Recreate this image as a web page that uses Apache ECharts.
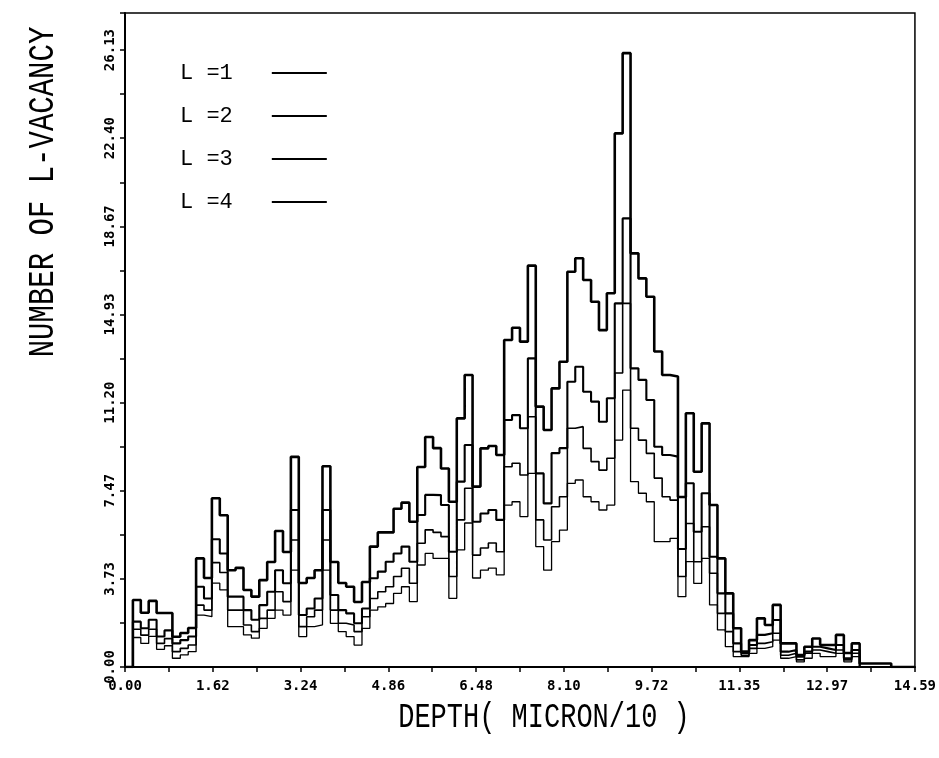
<!DOCTYPE html>
<html>
<head>
<meta charset="utf-8">
<script src="https://cdn.jsdelivr.net/npm/echarts@6/dist/echarts.min.js"></script>
<style>
html, body { margin: 0; padding: 0; background: #ffffff; }
#chart { width: 939px; height: 758px; }
</style>
</head>
<body>
<div id="chart"></div>
<script>
// Depth distribution of L-vacancies: one step curve per L shell, 100 depth bins.
const depthMax = 14.59;
const binCount = 100;
const binWidth = depthMax / binCount;

const xTickLabels = ['0.00', '1.62', '3.24', '4.86', '6.48', '8.10', '9.72', '11.35', '12.97', '14.59'];
const yTickLabels = ['0.00', '3.73', '7.47', '11.20', '14.93', '18.67', '22.40', '26.13'];
const seriesNames = ['L =1', 'L =2', 'L =3', 'L =4'];

const vacL1 = [
  0, 2.84, 2.30, 2.80, 2.29, 2.29, 1.28, 1.44, 1.65, 4.60,
  3.77, 7.15, 6.43, 4.10, 4.20, 3.26, 2.98, 3.68, 4.45, 5.76,
  4.87, 8.90, 3.56, 3.77, 4.10, 8.50, 4.45, 3.56, 3.40, 2.75,
  3.60, 5.10, 5.70, 5.70, 6.70, 6.96, 6.15, 8.47, 9.74, 9.27,
  8.41, 7.00, 10.53, 12.37, 7.64, 9.26, 9.36, 8.98, 13.85, 14.37,
  13.78, 17.00, 11.03, 10.04, 11.80, 12.93, 16.74, 17.31, 16.39, 15.47,
  14.27, 15.83, 22.60, 26.00, 17.52, 16.46, 15.68, 13.36, 12.37, 12.30,
  7.20, 10.75, 8.27, 10.32, 6.86, 4.60, 3.12, 1.64, 0.65, 1.14,
  2.06, 1.78, 2.63, 1.00, 1.00, 0.51, 0.86, 1.21, 0.93, 0.93,
  1.36, 0.59, 1.00, 0.15, 0.15, 0.15, 0.15, 0, 0, 0
];
const vacL2 = [
  0, 1.92, 1.64, 2.00, 1.29, 1.55, 1.00, 1.14, 1.29, 3.40,
  2.90, 5.41, 4.81, 2.98, 2.98, 2.41, 2.00, 2.62, 3.19, 4.10,
  3.55, 6.65, 2.20, 2.48, 2.90, 6.65, 3.05, 2.41, 2.27, 1.85,
  2.48, 3.76, 4.04, 4.46, 4.81, 5.10, 4.46, 6.44, 7.29, 7.28,
  6.86, 4.88, 7.85, 9.40, 6.15, 6.50, 6.65, 6.23, 10.46, 10.67,
  10.11, 13.07, 8.20, 6.93, 9.06, 9.27, 12.08, 12.72, 11.66, 11.24,
  10.39, 11.38, 15.40, 19.00, 12.65, 12.16, 11.31, 9.33, 8.98, 8.91,
  5.00, 7.78, 5.73, 7.36, 4.67, 3.12, 2.27, 1.00, 0.60, 0.93,
  1.36, 1.43, 1.99, 0.65, 0.72, 0.44, 0.65, 0.86, 0.79, 0.72,
  0.93, 0.37, 0.72, 0, 0, 0, 0, 0, 0, 0
];
const vacL3 = [
  0, 1.60, 1.35, 1.60, 1.00, 1.20, 0.65, 0.79, 0.93, 2.62,
  2.41, 4.42, 4.00, 2.41, 2.41, 1.78, 1.50, 2.06, 2.41, 3.19,
  2.77, 5.38, 1.71, 2.13, 2.41, 5.38, 2.41, 1.85, 1.78, 1.50,
  2.13, 2.90, 3.19, 3.40, 3.83, 4.18, 3.55, 5.24, 5.81, 5.70,
  5.52, 3.83, 6.23, 7.57, 4.74, 5.04, 5.25, 4.88, 8.48, 8.63,
  8.13, 10.60, 6.23, 5.38, 6.79, 7.21, 10.11, 10.18, 9.26, 8.70,
  8.34, 8.84, 12.45, 15.40, 10.11, 9.61, 9.05, 8.00, 7.21, 7.07,
  3.83, 6.08, 4.46, 5.94, 3.97, 2.27, 1.50, 0.65, 0.50, 0.79,
  1.00, 1.07, 1.43, 0.50, 0.58, 0.30, 0.58, 0.72, 0.65, 0.58,
  0.72, 0.30, 0.58, 0, 0, 0, 0, 0, 0, 0
];
const vacL4 = [
  0, 1.25, 1.00, 1.30, 0.75, 0.90, 0.37, 0.51, 0.65, 2.20,
  2.13, 3.55, 3.27, 1.71, 1.71, 1.36, 1.22, 1.64, 2.06, 2.41,
  2.20, 4.10, 1.29, 1.71, 1.78, 4.10, 1.85, 1.50, 1.29, 0.93,
  1.64, 2.41, 2.55, 2.69, 3.12, 3.40, 2.77, 4.32, 4.81, 4.60,
  4.60, 2.91, 4.96, 6.10, 3.77, 4.10, 4.19, 3.90, 6.86, 7.00,
  6.37, 8.20, 5.10, 4.10, 5.31, 5.80, 7.78, 7.92, 7.21, 7.00,
  6.65, 6.86, 9.61, 11.73, 7.85, 7.36, 7.00, 5.31, 5.31, 5.45,
  2.98, 4.46, 3.54, 4.60, 2.63, 1.57, 0.86, 0.44, 0.44, 0.58,
  0.79, 0.86, 1.14, 0.37, 0.44, 0.22, 0.37, 0.58, 0.44, 0.44,
  0.58, 0.22, 0.44, 0, 0, 0, 0, 0, 0, 0
];

const seriesValues = [vacL1, vacL2, vacL3, vacL4];
const lineWidths = [2.6, 2.1, 1.6, 1.3];

// Bin start positions with each bin's count; a closing point ends the last bin.
function stepPoints(values) {
  const pts = values.map((v, i) => [i * binWidth, v]);
  pts.push([values.length * binWidth, values[values.length - 1]]);
  return pts;
}

const xStep = depthMax / 18;        // tick spacing, labels on every other tick
const yMaxLabel = 26.13;
const yStep = yMaxLabel / 14;

const labelFont = '"DejaVu Sans Mono", monospace';
const titleFont = '"Liberation Mono", "DejaVu Sans Mono", monospace';

const chart = echarts.init(document.getElementById('chart'), null, { renderer: 'canvas' });

chart.setOption({
  animation: false,
  backgroundColor: '#ffffff',
  grid: {
    left: 125, right: 23, top: 13, bottom: 91,
    show: true, borderColor: '#000', borderWidth: 1.5, backgroundColor: 'transparent'
  },
  legend: {
    orient: 'vertical',
    left: 175,
    top: 57,
    align: 'right',
    itemWidth: 55,
    itemHeight: 20,
    itemGap: 21,
    itemStyle: { opacity: 0 },
    textStyle: {
      fontFamily: titleFont,
      fontSize: 22,
      color: '#000',
      padding: [0, 34, 0, 0]
    },
    data: seriesNames
  },
  xAxis: {
    type: 'value',
    min: 0,
    max: depthMax,
    interval: xStep,
    splitLine: { show: false },
    axisLine: { lineStyle: { color: '#000', width: 2 } },
    axisTick: { length: 5, lineStyle: { color: '#000', width: 1.5 } },
    axisLabel: {
      margin: 12,
      fontFamily: labelFont,
      fontWeight: 'bold',
      fontSize: 14,
      color: '#000',
      formatter: function (val) {
        const k = Math.round(val / xStep);
        return k % 2 === 0 && xTickLabels[k / 2] !== undefined ? xTickLabels[k / 2] : '';
      }
    }
  },
  yAxis: {
    type: 'value',
    min: 0,
    max: 27.7,
    interval: yStep,
    splitLine: { show: false },
    axisLine: { lineStyle: { color: '#000', width: 2 } },
    axisTick: { length: 5, lineStyle: { color: '#000', width: 1.5 } },
    axisLabel: {
      rotate: 90,
      margin: 8,
      fontFamily: labelFont,
      fontWeight: 'bold',
      fontSize: 14,
      color: '#000',
      formatter: function (val) {
        const k = Math.round(val / yStep);
        if (Math.abs(val - k * yStep) > 1e-6) return '';
        return k % 2 === 0 && yTickLabels[k / 2] !== undefined ? yTickLabels[k / 2] : '';
      }
    }
  },
  graphic: [
    {
      type: 'text',
      x: 43, y: 192,
      rotation: Math.PI / 2,
      scaleY: 1.3,
      style: {
        text: 'NUMBER OF L-VACANCY',
        font: '29px ' + titleFont,
        fill: '#000',
        align: 'center',
        verticalAlign: 'middle'
      }
    },
    {
      type: 'text',
      x: 544, y: 718,
      scaleY: 1.3,
      style: {
        text: 'DEPTH( MICRON/10 )',
        font: '27px ' + titleFont,
        fill: '#000',
        align: 'center',
        verticalAlign: 'middle'
      }
    }
  ],
  series: seriesValues.map((vals, idx) => ({
    name: seriesNames[idx],
    type: 'line',
    step: 'end',
    symbol: 'none',
    data: stepPoints(vals),
    lineStyle: { color: '#000', width: lineWidths[idx] },
    itemStyle: { color: '#000' },
    z: 3 + idx
  }))
});
</script>
</body>
</html>
